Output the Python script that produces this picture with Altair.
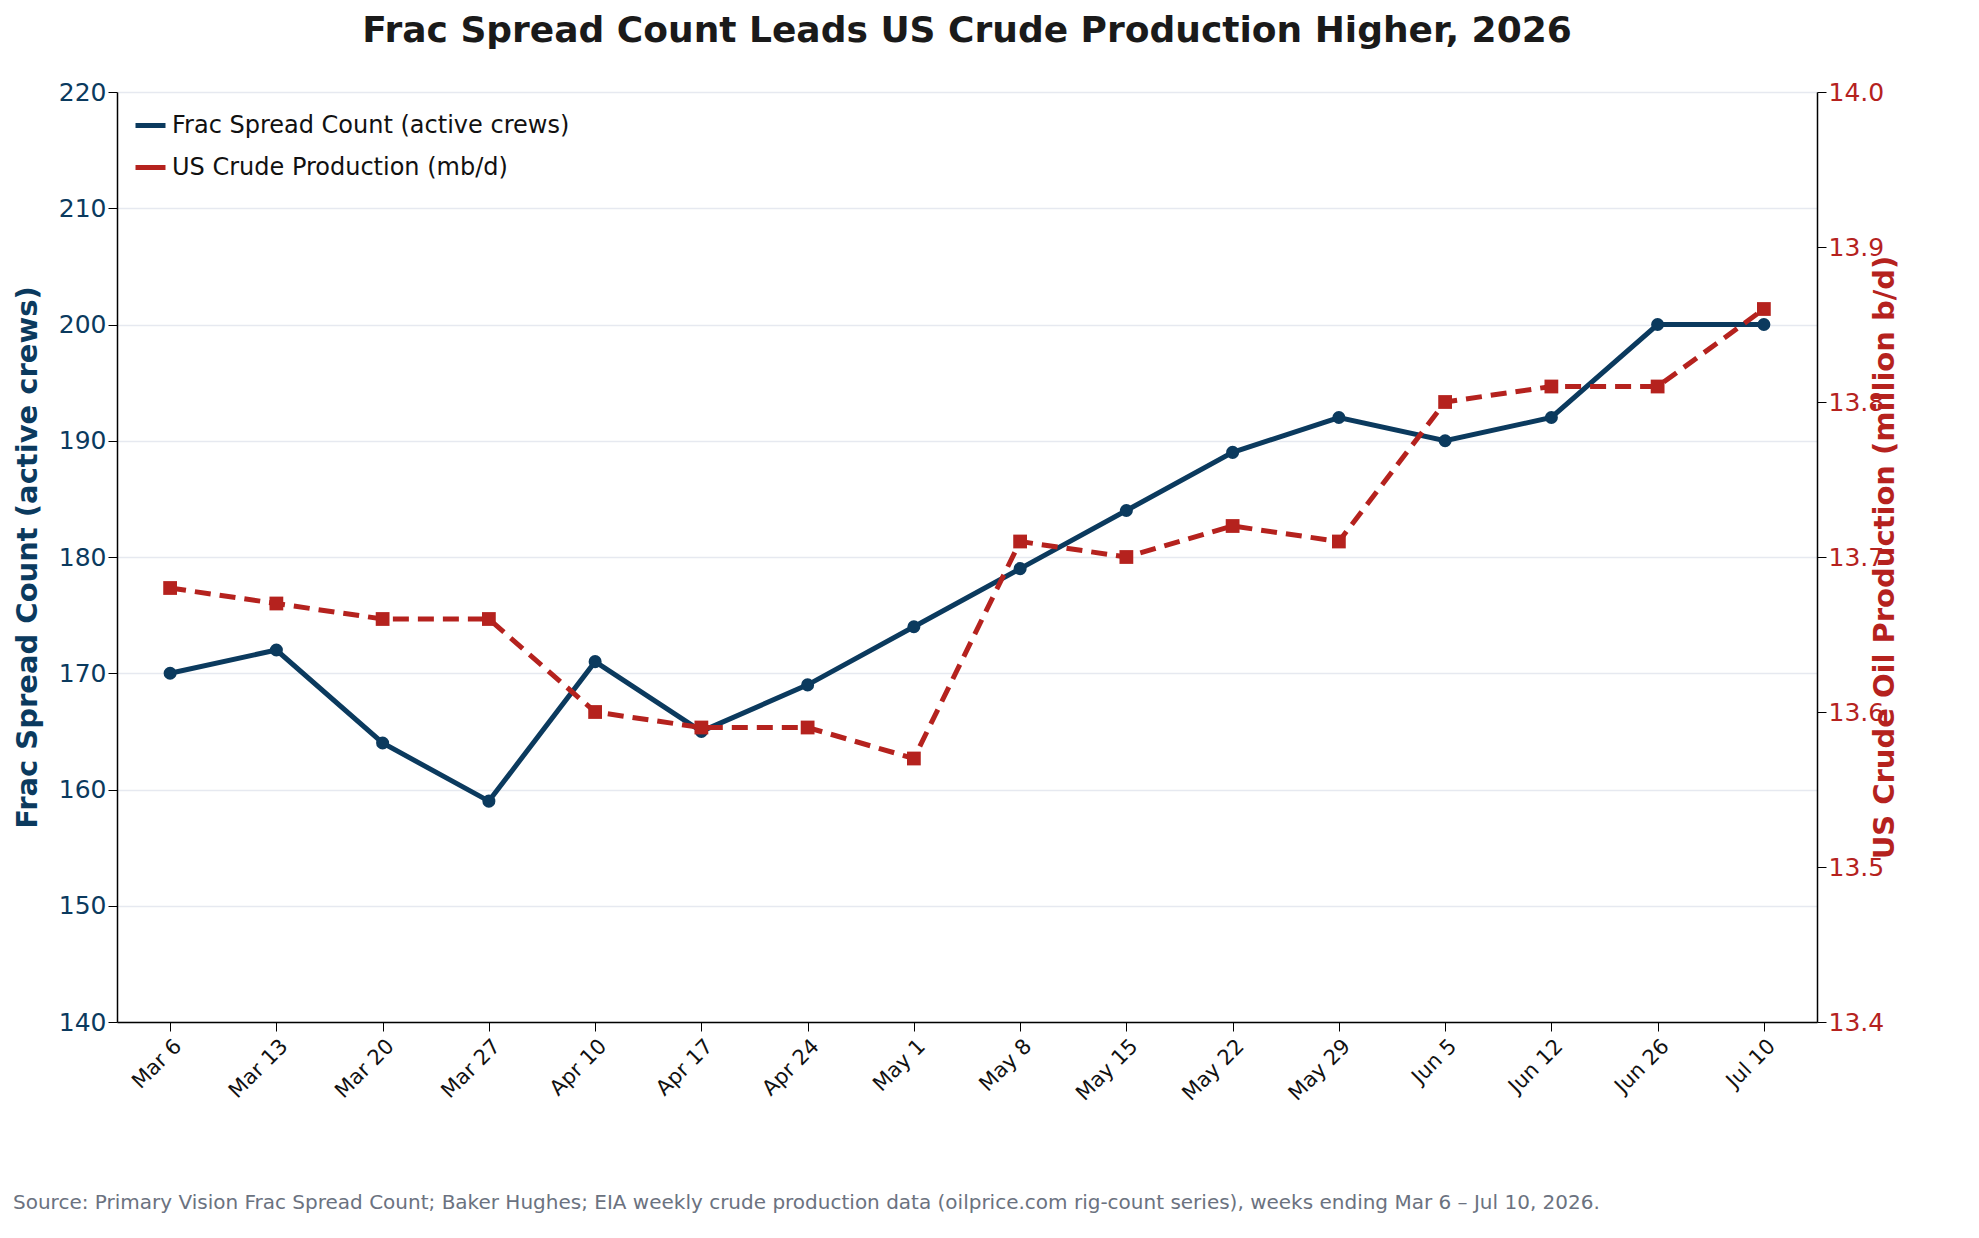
import altair as alt
import pandas as pd

weeks = ["Mar 6", "Mar 13", "Mar 20", "Mar 27", "Apr 10", "Apr 17", "Apr 24", "May 1",
         "May 8", "May 15", "May 22", "May 29", "Jun 5", "Jun 12", "Jun 26", "Jul 10"]
frac = [170, 172, 164, 159, 171, 165, 169, 174, 179, 184, 189, 192, 190, 192, 200, 200]
crude = [13.68, 13.67, 13.66, 13.66, 13.60, 13.59, 13.59, 13.57,
         13.71, 13.70, 13.72, 13.71, 13.80, 13.81, 13.81, 13.86]

df = pd.DataFrame({"week": weeks, "frac": frac, "crude": crude})

BLUE = "#0b3a5e"
RED = "#b5221e"
s1 = "Frac Spread Count (active crews)"
s2 = "US Crude Production (mb/d)"

x = alt.X("week:N", sort=weeks, title=None,
          scale=alt.Scale(paddingOuter=0.25),
          axis=alt.Axis(labelAngle=-45, labelAlign="right", labelBaseline="top",
                        labelFontSize=21, labelColor="#111", domainColor="#000",
                        domainWidth=1.5, tickColor="#000", tickSize=9, labelPadding=4,
                        grid=False))

color = alt.Color("s:N", scale=alt.Scale(domain=[s1, s2], range=[BLUE, RED]),
                  legend=alt.Legend(title=None, orient="top-left", labelFontSize=24,
                                    labelColor="#111", symbolType="stroke",
                                    symbolStrokeWidth=5, symbolSize=900, offset=16,
                                    labelLimit=600, rowPadding=12))

frac_line = alt.Chart(df).transform_calculate(s=f"'{s1}'").mark_line(
    color=BLUE, strokeWidth=5, point=alt.OverlayMarkDef(color=BLUE, size=170, filled=True, opacity=1)
).encode(
    x=x,
    y=alt.Y("frac:Q", title="Frac Spread Count (active crews)",
            scale=alt.Scale(domain=[140, 220]),
            axis=alt.Axis(values=list(range(140, 221, 10)), labelColor=BLUE, titleColor=BLUE,
                          labelFontSize=25, titleFontSize=29, titleFontWeight="bold",
                          gridColor="#e6e9f0", gridWidth=1.5, domainColor="#000",
                          domainWidth=1.5, tickColor="#000", tickSize=9, titlePadding=16)),
    color=color,
)

crude_line = alt.Chart(df).transform_calculate(s=f"'{s2}'").mark_line(
    color=RED, strokeWidth=5, strokeDash=[16, 9],
    point=alt.OverlayMarkDef(color=RED, shape="square", size=190, filled=True, opacity=1)
).encode(
    x=x,
    y=alt.Y("crude:Q", title="US Crude Oil Production (million b/d)",
            scale=alt.Scale(domain=[13.4, 14.0]),
            axis=alt.Axis(values=[13.4, 13.5, 13.6, 13.7, 13.8, 13.9, 14.0], format=".1f",
                          orient="right", labelColor=RED, titleColor=RED, grid=False,
                          labelFontSize=25, titleFontSize=29, titleFontWeight="bold",
                          titleAngle=270, domainColor="#000", domainWidth=1.5,
                          tickColor="#000", tickSize=9, titlePadding=16)),
    color=color,
)

source = alt.Chart(pd.DataFrame({"t": ["Source: Primary Vision Frac Spread Count; Baker Hughes; EIA weekly crude production data (oilprice.com rig-count series), weeks ending Mar 6 \u2013 Jul 10, 2026."]}))

chart = alt.vconcat(
    alt.layer(frac_line, crude_line).resolve_scale(y="independent").properties(
        width=1700, height=930,
        title=alt.TitleParams("Frac Spread Count Leads US Crude Production Higher, 2026",
                              fontSize=36, fontWeight="bold", color="#1a1a1a", offset=30)),
    source.mark_text(align="left", baseline="middle", fontSize=20, color="#6b7280").encode(
        text="t:N", x=alt.value(-104), y=alt.value(10)
    ).properties(width=1700, height=20),
    spacing=88,
).configure(font="DejaVu Sans").configure_view(stroke=None)

chart.save("out.html", embed_options={"renderer": "svg", "actions": False})
